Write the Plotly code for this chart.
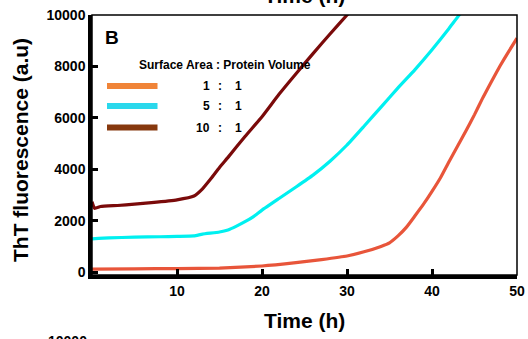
import plotly.graph_objects as go

# ---- data ----
t_10 = [0, 0.3, 1, 3, 5, 7, 10, 12, 13, 14, 15, 16, 18, 20, 22, 24, 26, 28, 30, 30.3]
f_10 = [2750, 2490, 2560, 2600, 2650, 2710, 2820, 2970, 3250, 3650, 4080, 4470, 5280, 6050, 6920, 7720, 8500, 9260, 10000, 10100]

t_5 = [0, 2, 5, 8, 10, 12, 13, 15, 16, 17, 18, 19, 20, 22, 24, 26, 28, 30, 32, 34, 36, 38, 40, 42, 43.2, 43.5]
f_5 = [1300, 1340, 1370, 1385, 1400, 1420, 1490, 1570, 1650, 1800, 1970, 2170, 2420, 2870, 3320, 3780, 4320, 4950, 5680, 6420, 7170, 7880, 8650, 9480, 10000, 10100]

t_1 = [0, 5, 10, 15, 20, 24, 27, 30, 32, 34, 35, 36, 37, 38, 39, 40, 41, 42, 43, 44, 45, 46, 47, 48, 49, 50]
f_1 = [130, 140, 150, 170, 250, 380, 500, 640, 800, 1010, 1150, 1420, 1760, 2200, 2650, 3150, 3680, 4300, 4900, 5500, 6130, 6800, 7420, 8020, 8570, 9100]

series_names = ["1 : 1", "5 : 1", "10 : 1"]
ratio_left = ["1", "5", "10"]
ratio_right = ["1", "1", "1"]
curve_colors = ["#E8553A", "#00F0F0", "#7A0A0A"]
legend_colors = ["#F08438", "#2AD8EC", "#86380E"]

x_ticks = [10, 20, 30, 40, 50]
y_ticks = [0, 2000, 4000, 6000, 8000, 10000]
y_tick_labels = ["0", "2000", "4000", "6000", "8000", "10000"]

FONT = "Arial, 'Liberation Sans', sans-serif"

fig = go.Figure()
for t, f, c, n in [(t_1, f_1, curve_colors[0], series_names[0]),
                   (t_5, f_5, curve_colors[1], series_names[1]),
                   (t_10, f_10, curve_colors[2], series_names[2])]:
    fig.add_trace(go.Scatter(x=t, y=f, mode="lines", name=n,
                             line=dict(color=c, width=3.2, shape="spline", smoothing=0.4),
                             showlegend=False, cliponaxis=True))

L, R, T, B = 92, 11, 15, 64
W, H = 528, 339
pw, ph = W - L - R, H - T - B


def px2x(px):
    return (px - L) / pw


def px2y(py):
    return (H - B - py) / ph


fig.update_layout(
    width=W, height=H,
    margin=dict(l=L, r=R, t=T, b=B, pad=0, autoexpand=False),
    paper_bgcolor="white", plot_bgcolor="white",
    font=dict(family=FONT, color="black"),
    showlegend=False,
)
fig.update_xaxes(range=[0, 50], tickvals=x_ticks, ticks="inside", ticklen=6, tickwidth=3,
                 tickcolor="black", showline=True, linecolor="black", linewidth=3.5,
                 showgrid=False, zeroline=False, automargin=False,
                 tickfont=dict(family=FONT, size=14, color="black", weight="bold"))
fig.update_yaxes(range=[-100, 10000], tickvals=y_ticks, ticktext=y_tick_labels,
                 ticks="inside", ticklen=6, tickwidth=3,
                 tickcolor="black", showline=True, linecolor="black", linewidth=3.5,
                 showgrid=False, zeroline=False, automargin=False,
                 tickfont=dict(family=FONT, size=14, color="black", weight="bold"))

# frame (thin top/right)
fig.add_shape(type="rect", xref="paper", yref="paper", x0=0, x1=1, y0=0, y1=1,
              line=dict(color="black", width=1.5), layer="above")

ann = []
# axis titles
ann.append(dict(text="<b>Time (h)</b>", x=0.5, y=px2y(320), xref="paper", yref="paper",
                showarrow=False, font=dict(size=21, family=FONT, color="black"),
                xanchor="center", yanchor="middle"))
ann.append(dict(text="<b>ThT fluorescence (a.u)</b>", x=px2x(21), y=px2y(150), xref="paper", yref="paper",
                showarrow=False, textangle=-90, font=dict(size=21, family=FONT, color="black"),
                xanchor="center", yanchor="middle"))
# panel label
ann.append(dict(text="<b>B</b>", x=px2x(112), y=px2y(37), xref="paper", yref="paper",
                showarrow=False, font=dict(size=19, family=FONT, color="black"),
                xanchor="center", yanchor="middle"))
# legend header
ann.append(dict(text="<b>Surface Area : Protein Volume</b>", x=px2x(137), y=px2y(65),
                xref="paper", yref="paper", showarrow=False,
                font=dict(size=12, family=FONT, color="black"), xanchor="left", yanchor="middle"))
leg_y = [86, 106, 127.5]
for i in range(3):
    fig.add_shape(type="line", xref="paper", yref="paper", x0=px2x(107), x1=px2x(157.5),
                  y0=px2y(leg_y[i]), y1=px2y(leg_y[i]), line=dict(color=legend_colors[i], width=6))
    ann.append(dict(text="<b>%s</b>" % ratio_left[i], x=px2x(212), y=px2y(leg_y[i]),
                    xref="paper", yref="paper", showarrow=False,
                    font=dict(size=12, family=FONT, color="black"), xanchor="right", yanchor="middle"))
    ann.append(dict(text="<b>:</b>", x=px2x(219.5), y=px2y(leg_y[i]),
                    xref="paper", yref="paper", showarrow=False,
                    font=dict(size=12, family=FONT, color="black"), xanchor="center", yanchor="middle"))
    ann.append(dict(text="<b>%s</b>" % ratio_right[i], x=px2x(238.5), y=px2y(leg_y[i]),
                    xref="paper", yref="paper", showarrow=False,
                    font=dict(size=12, family=FONT, color="black"), xanchor="center", yanchor="middle"))

# fragments of neighbouring panels (cut off by the image edges)
ann.append(dict(text="<b>Time (h)</b>", x=0.5, y=px2y(-5), xref="paper", yref="paper",
                showarrow=False, font=dict(size=21, family=FONT, color="black"),
                xanchor="center", yanchor="middle"))
ann.append(dict(text="<b>10000</b>", x=px2x(89), y=px2y(341), xref="paper", yref="paper",
                showarrow=False, font=dict(size=14, family=FONT, color="black"),
                xanchor="right", yanchor="middle"))
fig.update_layout(annotations=ann)

fig.write_html("out.html", config={"displayModeBar": False},
               post_script="document.body.style.margin='0';")
